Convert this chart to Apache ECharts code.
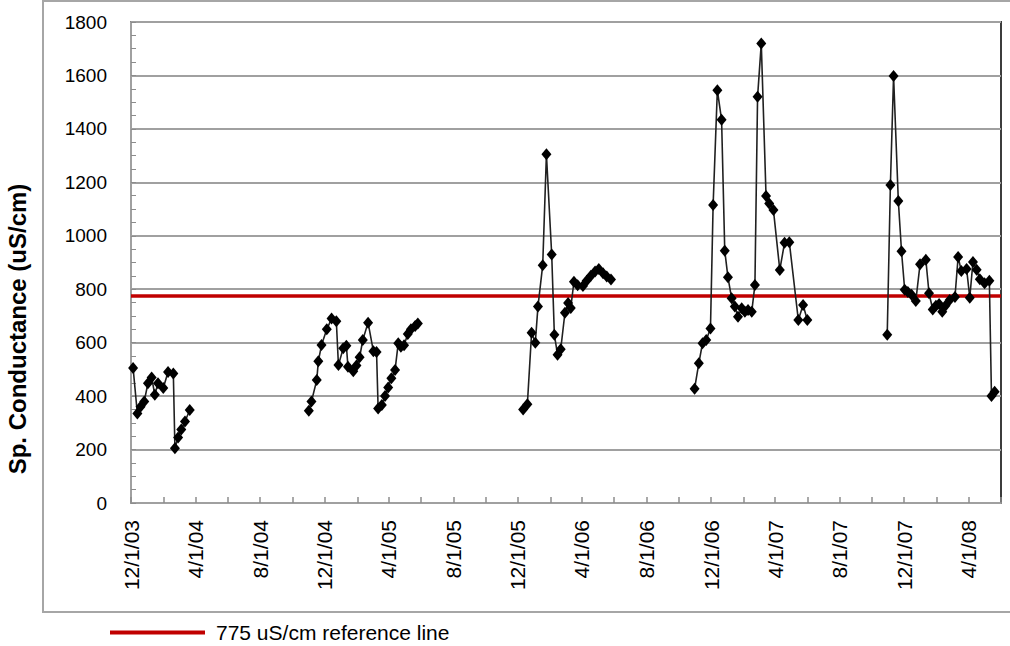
<!DOCTYPE html>
<html>
<head>
<meta charset="utf-8">
<script src="https://cdn.jsdelivr.net/npm/echarts@6/dist/echarts.min.js"></script>
<style>
html,body{margin:0;padding:0;background:#fff;}
#chart{width:1010px;height:646px;}
</style>
</head>
<body>
<div id="chart"></div>
<script>
// ---- data ----
const period2003_04 = [
  ['2003-12-05',505],['2003-12-13',335],['2003-12-19',360],['2003-12-26',380],
  ['2004-01-02',448],['2004-01-09',470],['2004-01-15',405],['2004-01-21',448],
  ['2004-01-31',430],['2004-02-09',490],['2004-02-19',485],['2004-02-22',205],
  ['2004-02-28',245],['2004-03-05',275],['2004-03-12',305],['2004-03-21',348]
];
const period2004_05 = [
  ['2004-11-01',345],['2004-11-06',380],['2004-11-16',460],['2004-11-19',530],
  ['2004-11-25',591],['2004-12-05',650],['2004-12-14',690],['2004-12-23',680],
  ['2004-12-27',516],['2005-01-05',579],['2005-01-11',588],['2005-01-14',510],
  ['2005-01-24',493],['2005-01-30',515],['2005-02-05',545],['2005-02-11',610],
  ['2005-02-21',675],['2005-03-03',568],['2005-03-09',565],['2005-03-12',354],
  ['2005-03-19',367],['2005-03-25',400],['2005-03-31',432],['2005-04-06',467],
  ['2005-04-13',498],['2005-04-19',598],['2005-04-24',585],['2005-04-30',590],
  ['2005-05-07',632],['2005-05-13',650],['2005-05-21',662],['2005-05-26',672]
];
const period2005_06 = [
  ['2005-12-11',350],['2005-12-19',370],['2005-12-27',637],['2006-01-03',600],
  ['2006-01-08',735],['2006-01-17',890],['2006-01-24',1305],['2006-02-03',930],
  ['2006-02-08',630],['2006-02-14',555],['2006-02-20',575],['2006-02-28',712],
  ['2006-03-06',748],['2006-03-11',730],['2006-03-17',828],['2006-03-24',815],
  ['2006-04-03',812],['2006-04-10',832],['2006-04-18',850],['2006-04-26',866],
  ['2006-05-03',876],['2006-05-11',860],['2006-05-18',848],['2006-05-26',836]
];
const period2006_07 = [
  ['2006-10-31',428],['2006-11-08',523],['2006-11-15',598],['2006-11-22',610],
  ['2006-11-30',653],['2006-12-05',1115],['2006-12-13',1545],['2006-12-21',1434],
  ['2006-12-27',944],['2007-01-02',845],['2007-01-09',766],['2007-01-15',735],
  ['2007-01-21',697],['2007-01-28',729],['2007-02-03',716],['2007-02-09',722],
  ['2007-02-16',716],['2007-02-22',816],['2007-02-27',1520],['2007-03-06',1720],
  ['2007-03-15',1149],['2007-03-21',1121],['2007-03-29',1096],['2007-04-10',872],
  ['2007-04-19',974],['2007-04-28',976],['2007-05-15',685],['2007-05-24',741],
  ['2007-06-01',685]
];
const period2007_08 = [
  ['2007-10-30',630],['2007-11-05',1190],['2007-11-11',1598],['2007-11-20',1130],
  ['2007-11-26',942],['2007-12-02',798],['2007-12-08',790],['2007-12-15',779],
  ['2007-12-23',756],['2007-12-31',893],['2008-01-11',910],['2008-01-17',785],
  ['2008-01-24',724],['2008-01-30',738],['2008-02-05',745],['2008-02-11',716],
  ['2008-02-17',738],['2008-02-25',760],['2008-03-06',771],['2008-03-12',921],
  ['2008-03-18',868],['2008-03-28',876],['2008-04-03',768],['2008-04-09',902],
  ['2008-04-16',873],['2008-04-22',837],['2008-05-01',822],['2008-05-10',832],
  ['2008-05-14',400],['2008-05-20',416]
];
const referenceValue = 775;
const referenceName = '775 uS/cm reference line';
const seriesName = 'Sp. Conductance';
const yAxisTitle = 'Sp. Conductance (uS/cm)';
const axisStart = '2003-12-01';
const axisEnd = '2008-06-01';
const xLabelDates = ['2003-12-01','2004-04-01','2004-08-01','2004-12-01','2005-04-01','2005-08-01',
  '2005-12-01','2006-04-01','2006-08-01','2006-12-01','2007-04-01','2007-08-01','2007-12-01','2008-04-01'];
const xTickDates = ['2003-12-01','2004-02-01','2004-04-01','2004-06-01','2004-08-01','2004-10-01',
  '2004-12-01','2005-02-01','2005-04-01','2005-06-01','2005-08-01','2005-10-01','2005-12-01',
  '2006-02-01','2006-04-01','2006-06-01','2006-08-01','2006-10-01','2006-12-01','2007-02-01',
  '2007-04-01','2007-06-01','2007-08-01','2007-10-01','2007-12-01','2008-02-01','2008-04-01','2008-06-01'];
const yTicks = [0,200,400,600,800,1000,1200,1400,1600,1800];

// ---- build ----
function ts(s){ const p = s.split('-').map(Number); return Date.UTC(p[0], p[1]-1, p[2]); }
const periods = [period2003_04, period2004_05, period2005_06, period2006_07, period2007_08];
const lineData = [];
periods.forEach((p, i) => {
  p.forEach(d => lineData.push([ts(d[0]), d[1]]));
  if (i < periods.length - 1) {
    const gap = (ts(p[p.length-1][0]) + ts(periods[i+1][0][0])) / 2;
    lineData.push([gap, '-']);
  }
});
const minT = ts(axisStart), maxT = ts(axisEnd);
const labelValues = xLabelDates.map(ts);
const tickValues = xTickDates.map(ts);
const FONT = 'Liberation Sans, Arial, sans-serif';
function fmtDate(v){ const d = new Date(v); return (d.getUTCMonth()+1) + '/' + d.getUTCDate() + '/' + String(d.getUTCFullYear()).slice(2); }

const chart = echarts.init(document.getElementById('chart'), null, {renderer: 'svg'});
chart.setOption({
  animation: false,
  backgroundColor: '#fff',
  grid: {left: 131, right: 9, top: 22, bottom: 143, show: true, borderColor: '#3c3c3c', borderWidth: 2, backgroundColor: 'transparent'},
  legend: {
    data: [{name: referenceName, icon: 'rect'}],
    left: 105, top: 617,
    itemWidth: 95, itemHeight: 4,
    textStyle: {fontFamily: FONT, fontSize: 21, color: '#000', padding: [0,0,0,6]}
  },
  graphic: [
    {type: 'rect', silent: true, shape: {x: 43, y: 1, width: 980, height: 611},
     style: {fill: 'none', stroke: '#a6a6a6', lineWidth: 2}, z: -1},
    {type: 'text', x: 17, y: 329, rotation: Math.PI/2,
     style: {text: yAxisTitle, font: 'bold 24px ' + FONT, fill: '#000', align: 'center', verticalAlign: 'middle'}}
  ],
  xAxis: {
    type: 'value', min: minT, max: maxT, scale: true,
    axisLine: {lineStyle: {color: '#a0a0a0', width: 2}},
    axisTick: {show: true, inside: true, length: 6, customValues: tickValues, lineStyle: {color: '#8c8c8c', width: 1.5}},
    axisLabel: {
      customValues: labelValues, rotate: 90, margin: 17,
      fontFamily: FONT, fontSize: 21, color: '#000',
      formatter: fmtDate
    },
    splitLine: {show: false}
  },
  yAxis: {
    type: 'value', min: yTicks[0], max: yTicks[yTicks.length-1], interval: 200,
    axisLine: {show: true, lineStyle: {color: '#a0a0a0', width: 2}},
    axisTick: {show: true, inside: true, length: 5, lineStyle: {color: '#8c8c8c'}},
    minorTick: {show: true, splitNumber: 4, length: 5, lineStyle: {color: '#8c8c8c'}},
    axisLabel: {fontFamily: FONT, fontSize: 19, color: '#000', margin: 24, formatter: v => String(v)},
    splitLine: {show: true, lineStyle: {color: '#a0a0a0', width: 2}}
  },
  series: [
    {
      name: referenceName, type: 'line',
      data: [[minT, referenceValue], [maxT, referenceValue]],
      showSymbol: false, symbol: 'none', color: '#c00000',
      lineStyle: {color: '#c00000', width: 3.5}, z: 3
    },
    {
      name: seriesName, type: 'line', data: lineData, connectNulls: false,
      symbol: 'diamond', symbolSize: [10, 12], showAllSymbol: true,
      itemStyle: {color: '#000'},
      lineStyle: {color: '#202020', width: 1.6}, z: 4
    }
  ]
});
</script>
</body>
</html>
